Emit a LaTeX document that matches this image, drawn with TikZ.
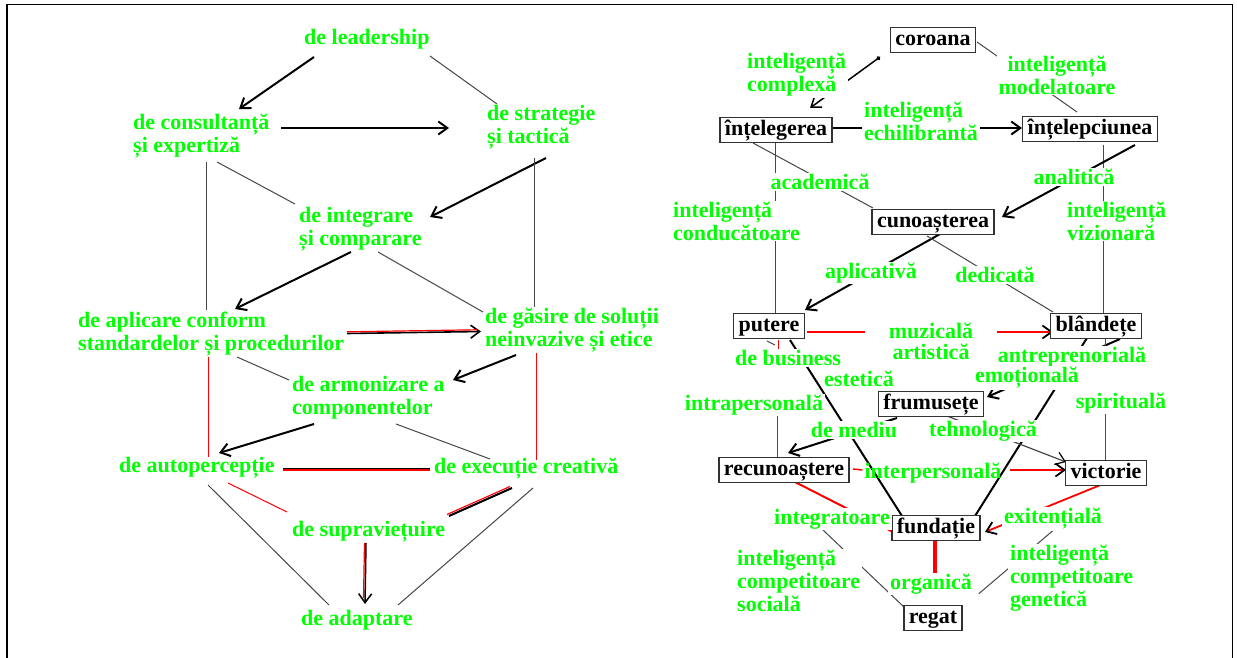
\documentclass[tikz,border=0pt]{standalone}
\usepackage{fontspec}
\setmainfont{Liberation Serif}
\usetikzlibrary{arrows.meta,calc}
\pgfdeclarelayer{bg}
\pgfsetlayers{bg,main}
\definecolor{lgreen}{RGB}{0,255,0}
\definecolor{lred}{RGB}{255,0,0}
\definecolor{lgray}{RGB}{70,70,70}
\definecolor{boxgray}{RGB}{50,50,50}
\begin{document}
\begin{tikzpicture}[x=1pt,y=-1pt,
  lbl/.style={text=lgreen,font=\fontsize{22}{23}\selectfont\bfseries,inner xsep=2pt,inner ysep=1pt},
  lblw/.style={lbl,fill=white},
  box/.style={draw=boxgray,line width=1.5pt,fill=white,text=black,font=\fontsize{22}{23}\selectfont\bfseries,inner xsep=5pt,inner ysep=3pt,text height=15pt,text depth=4pt},
  tip/.style={-{Straight Barb[length=9pt,width=13pt,color=black]}},
  arr/.style={draw=black,line width=2pt,tip},
  thinl/.style={draw=lgray,line width=1pt},
  redl/.style={draw=lred,line width=1.5pt},
  redarr/.style={draw=lred,line width=1.8pt,tip},
  blk/.style={draw=black,line width=2pt}]
\useasboundingbox (0,0) rectangle (1237,658);
% ---------- left diagram labels ----------
\node[lbl,anchor=west] (leadership) at (302,39) {de leadership};
\node[lbl,anchor=west,align=left] (consultanta) at (131,136.5) {de consultanță\\și expertiză};
\node[lbl,anchor=west,align=left] (strategie) at (485,127) {de strategie\\și tactică};
\node[lbl,anchor=west,align=left] (integrare) at (297,229.5) {de integrare\\și comparare};
\node[lbl,anchor=west,align=left] (aplicare) at (76,334) {de aplicare conform\\standardelor și procedurilor};
\node[lbl,anchor=west,align=left] (gasire) at (483,330) {de găsire de soluții\\neinvazive și etice};
\node[lbl,anchor=west,align=left] (armonizare) at (290,398) {de armonizare a\\componentelor};
\node[lbl,anchor=west] (autoperceptie) at (117,468) {de autopercepție};
\node[lbl,anchor=west] (executie) at (432,469) {de execuție creativă};
\node[lbl,anchor=west] (supravietuire) at (290,532) {de supraviețuire};
\node[lbl,anchor=west] (adaptare) at (299,620) {de adaptare};
% ---------- right diagram boxes ----------
\node[box] (coroana) at (933,40) {coroana};
\node[box] (intelegerea) at (776,130) {înțelegerea};
\node[box] (intelepciunea) at (1090,129) {înțelepciunea};
\node[box] (cunoasterea) at (933,222) {cunoașterea};
\node[box] (putere) at (769,326) {putere};
\node[box] (blandete) at (1096,326) {blândețe};
\node[box] (frumusete) at (931,404) {frumusețe};
\node[box] (recunoastere) at (784,470) {recunoaștere};
\node[box] (victorie) at (1106,473) {victorie};
\node[box] (fundatie) at (936,528) {fundație};
\node[box] (regat) at (933,618) {regat};
% ---------- right diagram labels ----------
\node[lblw,anchor=west,align=left] (complexa) at (745,75) {inteligență\\complexă};
\node[lblw,align=center] (modelatoare) at (1057,75) {inteligență\\modelatoare};
\node[lblw,anchor=west,align=left] (echilibranta) at (862,121.5) {inteligență\\echilibrantă};
\node[lblw] (academica) at (820,182) {academică};
\node[lblw] (analitica) at (1074,177) {analitică};
\node[lblw,anchor=west,align=left] (conducatoare) at (671,221) {inteligență\\conducătoare};
\node[lblw,anchor=west,align=left] (vizionara) at (1065,221) {inteligență\\vizionară};
\node[lblw] (aplicativa) at (871,273) {aplicativă};
\node[lblw] (dedicata) at (995,275) {dedicată};
\node[lblw,align=center,font=\fontsize{22}{21}\selectfont\bfseries,inner xsep=24pt,inner ysep=0pt] (muzicala) at (931,341) {muzicală\\artistică};
\node[lblw] (business) at (788,358) {de business};
\node[lblw] (estetica) at (859,379) {estetică};
\node[lblw] (antreprenoriala) at (1072,357) {antreprenorială};
\node[lblw] (emotionala) at (1027,378) {emoțională};
\node[lblw] (intrapersonala) at (754,405) {intrapersonală};
\node[lblw] (spirituala) at (1121,403) {spirituală};
\node[lblw] (mediu) at (854,430) {de mediu};
\node[lblw] (tehnologica) at (983,431) {tehnologică};
\node[lbl] (interpersonala) at (933,473) {interpersonală};
\node[lblw] (integratoare) at (832,519) {integratoare};
\node[lblw] (exitentiala) at (1053,519) {exitențială};
\node[lblw,anchor=west,align=left] (sociala) at (735,581) {inteligență\\competitoare\\socială};
\node[lblw] (organica) at (931,584) {organică};
\node[lblw,anchor=west,align=left] (genetica) at (1008,578) {inteligență\\competitoare\\genetică};
\begin{pgfonlayer}{bg}
% frame
\draw[line width=1pt] (6,5) -- (1232.5,5);
\draw[line width=2pt] (7,5) -- (7,658);
\draw[line width=1pt] (1232.5,5) -- (1232.5,658);
% ---------- left connectors ----------
\draw[arr] ($(leadership.west)+(12,18)$) -- ($(consultanta.west)+(108,-27.5)$);
\draw[thinl] ($(leadership.west)+(128,17)$) -- ($(strategie.west)+(12,-23)$);
\draw[arr] ($(consultanta.west)+(150,-8.5)$) -- ($(strategie.west)+(-36,1)$);
\draw[thinl] ($(consultanta.west)+(86,25.5)$) -- ($(integrare.west)+(-2,-25.5)$);
\draw[thinl] ($(consultanta.west)+(75,25.5)$) -- ($(aplicare.west)+(130,-24)$);
\draw[arr] ($(strategie.west)+(61,31)$) -- ($(integrare.west)+(133,-12.5)$);
\draw[thinl] ($(strategie.west)+(49,31)$) -- ($(gasire.west)+(51,-23)$);
\draw[arr] ($(integrare.west)+(54,22.5)$) -- ($(aplicare.west)+(159,-25)$);
\draw[thinl] ($(integrare.west)+(81,22.5)$) -- ($(gasire.west)+(0,-18)$);
\draw[arr,line width=1.6pt] ($(aplicare.west)+(271,-0.5)$) -- ($(gasire.west)+(-2,1.5)$);
\draw[redl,line width=1.2pt] ($(aplicare.west)+(271,-2.2)$) -- ($(gasire.west)+(-6,-0.2)$);
\draw[redl,line width=1pt] ($(aplicare.west)+(132,23)$) -- ($(autoperceptie.west)+(91,-11)$);
\draw[thinl] ($(aplicare.west)+(161,23)$) -- ($(armonizare.west)+(-1,-18)$);
\draw[arr] ($(gasire.west)+(33,25)$) -- ($(armonizare.west)+(163,-18)$);
\draw[redl,line width=1pt] ($(gasire.west)+(53,23)$) -- ($(executie.west)+(104,-9)$);
\draw[arr] ($(armonizare.west)+(24,26)$) -- ($(autoperceptie.west)+(102,-15)$);
\draw[thinl] ($(armonizare.west)+(106,26)$) -- ($(executie.west)+(58,-10)$);
\draw[blk,line width=1.6pt] ($(autoperceptie.west)+(166,0.5)$) -- ($(executie.west)+(-2,-0.5)$);
\draw[redl,line width=1.2pt] ($(autoperceptie.west)+(166,2)$) -- ($(executie.west)+(-2,1)$);
\draw[redl,line width=1pt] ($(autoperceptie.west)+(111,15)$) -- ($(supravietuire.west)+(-3,-20)$);
\draw[blk] ($(executie.west)+(80,19)$) -- ($(supravietuire.west)+(159,-16)$);
\draw[redl,line width=1.2pt] ($(executie.west)+(78,17.5)$) -- ($(supravietuire.west)+(157,-17.5)$);
\draw[thinl] ($(autoperceptie.west)+(91,17)$) -- ($(adaptare.west)+(30,-15)$);
\draw[thinl] ($(executie.west)+(101,19)$) -- ($(adaptare.west)+(99,-15)$);
\draw[arr,line width=1.5pt] ($(supravietuire.west)+(76,11)$) -- ($(adaptare.west)+(66,-16)$);
\draw[redl,line width=1.2pt] ($(supravietuire.west)+(74.5,11)$) -- ($(adaptare.west)+(64.5,-22)$);
% ---------- right connectors ----------
\draw[draw=black,line width=1.5pt,{Circle[length=4pt]}-{Straight Barb[length=9pt,width=13pt]}] ($(coroana)+(-53,17)$) -- ($(intelegerea)+(34,-22)$);
\draw[thinl] ($(coroana)+(44,2)$) -- ($(intelepciunea)+(-13,-17)$);
\draw[arr] ($(intelegerea)+(55,-2)$) -- ($(intelepciunea)+(-68,-1)$);
\draw[thinl] ($(intelegerea)+(-23,13)$) -- ($(cunoasterea)+(-60,-14)$);
\draw[thinl] ($(intelegerea)+(-1,13)$) -- ($(putere)+(6,-13)$);
\draw[thinl] ($(intelepciunea)+(13,16)$) -- ($(blandete)+(7,-13)$);
\draw[arr] ($(intelepciunea)+(45,16)$) -- ($(cunoasterea)+(69,-5)$);
\draw[arr] ($(cunoasterea)+(7,12)$) -- ($(putere)+(36,-16)$);
\draw[thinl] ($(cunoasterea)+(-6,14)$) -- ($(blandete)+(-43,-14)$);
\draw[redarr] ($(putere)+(38,6)$) -- ($(blandete)+(-43,6)$);
\draw[redl,line width=1pt] ($(putere)+(9,14)$) -- ($(business)+(-10,-9)$);
\draw[redl,line width=1pt] ($(intrapersonala)+(23,10)$) -- ($(recunoastere)+(-7,-12)$);
\draw[blk] ($(putere)+(21,14)$) -- ($(fundatie)+(-34,-12)$);
\draw[blk] ($(blandete)+(-9,12)$) -- ($(fundatie)+(39,-12)$);
\draw[arr] ($(blandete)+(24,13)$) -- ($(frumusete)+(56,-7)$);
\draw[redl,line width=1pt] ($(blandete)+(9,12)$) -- ($(antreprenoriala)+(33,-9)$);
\draw[redl,line width=1pt] ($(spirituala)+(-16,10)$) -- ($(victorie)+(-1,-12)$);
\draw[thinl] ($(putere)+(-2,15)$) -- ($(putere)+(6,19)$);
\draw[arr] ($(frumusete)+(-34,14)$) -- ($(recunoastere)+(4,-17)$);
\draw[thinl,line width=1.2pt,tip] ($(frumusete)+(16,12)$) -- ($(victorie)+(-40,-11)$);
\draw[redl] ($(recunoastere)+(69,-1)$) -- ($(interpersonala.west)+(0,-3)$);
\draw[redarr] ($(interpersonala.east)+(6,-3)$) -- ($(victorie)+(-40,-3)$);
\draw[redl,line width=2pt] ($(recunoastere)+(11,12)$) -- ($(fundatie)+(-43,4)$);
\draw[redarr] ($(victorie)+(-3,11)$) -- ($(fundatie)+(49,4)$);
\draw[redl,line width=4pt] ($(fundatie)+(-1,12)$) -- ($(organica)+(4,-8)$);
\draw[thinl] ($(integratoare)+(-9,11)$) -- ($(regat)+(-28,-10)$);
\draw[thinl,shorten >=22pt] ($(exitentiala)+(3,9)$) -- ($(regat)+(29,-10)$);
\end{pgfonlayer}
\end{tikzpicture}
\end{document}
